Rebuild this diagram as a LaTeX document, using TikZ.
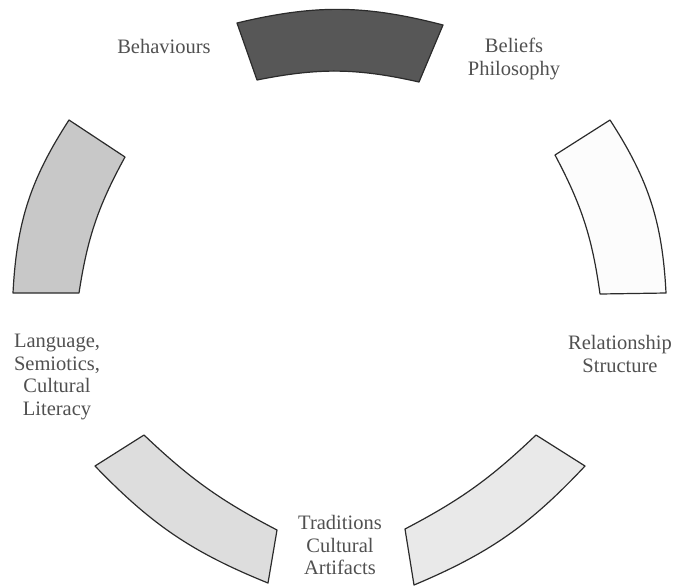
\documentclass[tikz,border=0pt]{standalone}
\usepackage{fontspec}
\setmainfont{Liberation Serif}
\usepackage{xcolor}
\usepackage{tikz}
\definecolor{RimInk}{HTML}{2B2B2B}
\definecolor{TextInk}{HTML}{505050}
\definecolor{ShadeDark}{HTML}{575757}
\definecolor{ShadeMid}{HTML}{C8C8C8}
\definecolor{ShadeLight}{HTML}{DDDDDD}
\definecolor{ShadePale}{HTML}{E9E9E9}
\definecolor{ShadeWhite}{HTML}{FCFCFC}

\begin{document}
\begin{tikzpicture}[x=1pt,y=-1pt,
  seg/.style={draw=RimInk,line width=1.2pt,line join=round},
  lbl/.style={text=TextInk,align=center,font=\fontsize{20.5}{22.5}\selectfont,inner sep=0pt}
]
\useasboundingbox (0,0) rectangle (676,587);

% ring corners
\coordinate (tA) at (237,23);  \coordinate (tB) at (443,25);
\coordinate (tC) at (419,82);  \coordinate (tD) at (257,80);
\coordinate (rA) at (610,120); \coordinate (rB) at (666,293);
\coordinate (rC) at (600,294); \coordinate (rD) at (555,155);
\coordinate (qA) at (585,466); \coordinate (qB) at (414,585);
\coordinate (qC) at (405,529); \coordinate (qD) at (536,435);
\coordinate (pA) at (268,583); \coordinate (pB) at (95,466);
\coordinate (pC) at (144,435); \coordinate (pD) at (277,530);
\coordinate (lA) at (13,293);  \coordinate (lB) at (69,120);
\coordinate (lC) at (125,157); \coordinate (lD) at (79,293);

\draw[seg,fill=ShadeDark]  (tA) to[bend left=14] (tB) -- (tC) to[bend right=12] (tD) -- cycle;
\draw[seg,fill=ShadeWhite] (rA) to[bend left=15] (rB) -- (rC) to[bend right=10] (rD) -- cycle;
\draw[seg,fill=ShadePale]  (qA) to[bend left=12] (qB) -- (qC) to[bend right=8] (qD) -- cycle;
\draw[seg,fill=ShadeLight] (pA) to[bend left=12] (pB) -- (pC) to[bend right=8] (pD) -- cycle;
\draw[seg,fill=ShadeMid]   (lA) to[bend left=15] (lB) -- (lC) to[bend right=10] (lD) -- cycle;

\node[lbl] (beh) at (164,46) {Behaviours};
\node[lbl] (bel) at (514,59) {Beliefs\\Philosophy};
\node[lbl] (rel) at (620,354) {Relationship\\Structure};
\node[lbl] (trad) at (340,545) {Traditions\\Cultural\\Artifacts};
\node[lbl] (lang) at (57,377) {Language,\\Semiotics,\\Cultural\\Literacy};
\end{tikzpicture}
\end{document}
